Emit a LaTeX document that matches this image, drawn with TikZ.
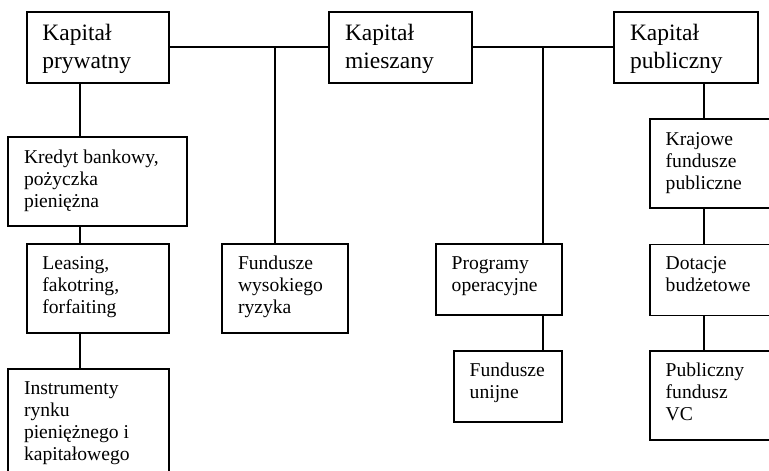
\documentclass[tikz,border=0pt]{standalone}
\usepackage{fontspec}
\setmainfont{Liberation Serif}
\usetikzlibrary{calc}
\begin{document}
\begin{tikzpicture}[x=1pt,y=-1pt,
  box/.style={draw, line width=1.7pt, inner sep=0pt, outer sep=0pt, anchor=north west},
  conn/.style={line width=1.7pt},
  big/.style={font=\fontsize{23.5}{27.5}\selectfont, align=left, inner sep=0pt, anchor=north west,
    execute at begin node={\rule{0pt}{19pt}}},
  small/.style={font=\fontsize{19.6}{22}\selectfont, align=left, inner sep=0pt, anchor=north west,
    execute at begin node={\rule{0pt}{16pt}}}]
\useasboundingbox (0,0) rectangle (769,471);
\clip (0,0) rectangle (769,471);

% top level
\node[box, minimum width=142.6pt, minimum height=71pt] (kp) at (26.7,11.7) {};
\node[box, minimum width=142.7pt, minimum height=71pt] (km) at (329.3,11.7) {};
\node[box, minimum width=143.4pt, minimum height=71pt] (kpub) at (614.3,11.7) {};
\node[big] (kpt) at ($(kp.north west)+(15.5,12.6)$) {Kapitał\\prywatny};
\node[big] (kmt) at ($(km.north west)+(15.5,12.6)$) {Kapitał\\mieszany};
\node[big] (kpubt) at ($(kpub.north west)+(15.5,12.6)$) {Kapitał\\publiczny};

% private capital branch
\node[box, minimum width=178.4pt, minimum height=89.3pt] (kr) at (8.3,136.7) {};
\node[box, minimum width=142.6pt, minimum height=88.7pt] (le) at (26.7,244) {};
\node[box, minimum width=161pt, minimum height=130pt] (ins) at (8.3,369) {};
\node[small] (krt) at ($(kr.north west)+(15.5,13)$) {Kredyt bankowy,\\pożyczka\\pieniężna};
\node[small] (let) at ($(le.north west)+(15.5,12)$) {Leasing,\\fakotring,\\forfaiting};
\node[small] (inst) at ($(ins.north west)+(15.5,12)$) {Instrumenty\\rynku\\pieniężnego i\\kapitałowego};

% mixed capital branch
\node[box, minimum width=125.4pt, minimum height=88.7pt] (fw) at (222.3,244) {};
\node[box, minimum width=125.7pt, minimum height=71pt] (po) at (436,244) {};
\node[box, minimum width=107.7pt, minimum height=71.3pt] (fu) at (454,351) {};
\node[small] (fwt) at ($(fw.north west)+(15.5,12)$) {Fundusze\\wysokiego\\ryzyka};
\node[small] (pot) at ($(po.north west)+(15.5,12)$) {Programy\\operacyjne};
\node[small] (fut) at ($(fu.north west)+(15.5,12)$) {Fundusze\\unijne};

% public capital branch
\node[box, minimum width=150pt, minimum height=89pt] (kf) at (650,119) {};
\node[box, minimum width=150pt, minimum height=71pt] (dot) at (650,244.5) {};
\node[box, minimum width=150pt, minimum height=89pt] (pf) at (650,351) {};
\node[small] (kft) at ($(kf.north west)+(15.5,13)$) {Krajowe\\fundusze\\publiczne};
\node[small] (dott) at ($(dot.north west)+(15.5,12)$) {Dotacje\\budżetowe};
\node[small] (pft) at ($(pf.north west)+(15.5,12)$) {Publiczny\\fundusz\\VC};

% connector columns
\coordinate (xa) at (80,0);
\coordinate (xb) at (275.3,0);
\coordinate (xc) at (543.3,0);
\coordinate (xd) at (704,0);

\draw[conn] (kp.east) -- (km.west |- kp.east);
\draw[conn] (km.east |- kpub.west) -- (kpub.west);
\draw[conn] (kp.east -| xb) -- (fw.north -| xb);
\draw[conn] (kpub.west -| xc) -- (po.north -| xc);
\draw[conn] (kp.south -| xa) -- (kr.north -| xa);
\draw[conn] (kr.south -| xa) -- (le.north -| xa);
\draw[conn] (le.south -| xa) -- (ins.north -| xa);
\draw[conn] (po.south -| xc) -- (fu.north -| xc);
\draw[conn] (kpub.south -| xd) -- (kf.north -| xd);
\draw[conn] (kf.south -| xd) -- (dot.north -| xd);
\draw[conn] (dot.south -| xd) -- (pf.north -| xd);
\end{tikzpicture}
\end{document}
